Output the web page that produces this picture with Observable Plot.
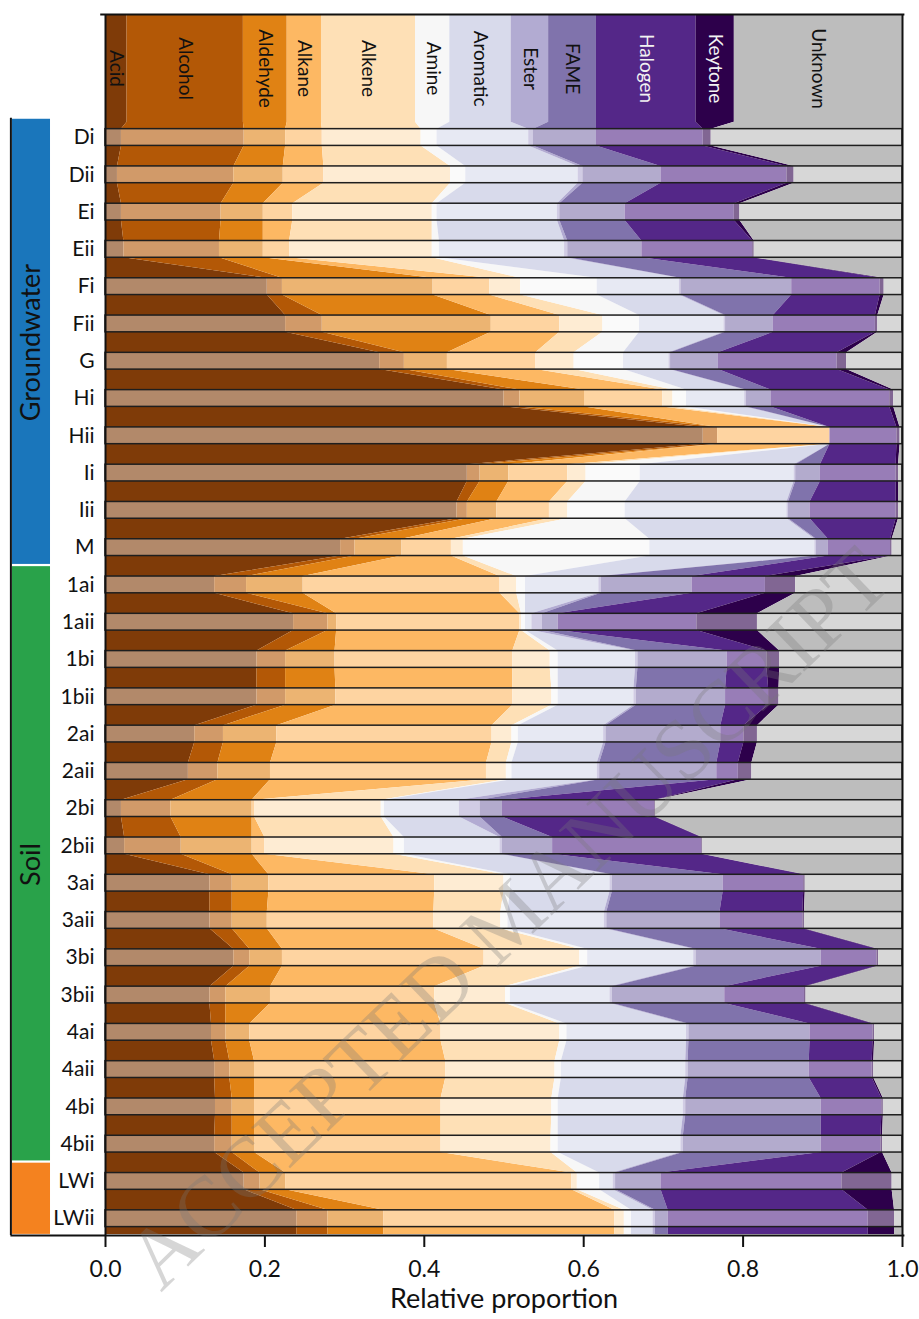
<!DOCTYPE html>
<html><head><meta charset="utf-8">
<script src="https://cdn.jsdelivr.net/npm/d3@7"></script>
<script src="https://cdn.jsdelivr.net/npm/@observablehq/plot@0.6"></script>
<style>body{margin:0;background:#fff;} svg{display:block;}</style>
</head><body><div id="chart"></div>
<script>
const categories = ["Acid","Alcohol","Aldehyde","Alkane","Alkene","Amine","Aromatic","Ester","FAME","Halogen","Keytone","Unknown"];
const colors = ["#7f3b08","#b35806","#e08214","#fdb863","#fee0b6","#f7f7f7","#d8daeb","#b2abd2","#8073ac","#542788","#2d004b","#bdbdbd"];
const samples = ["Di","Dii","Ei","Eii","Fi","Fii","G","Hi","Hii","Ii","Iii","M","1ai","1aii","1bi","1bii","2ai","2aii","2bi","2bii","3ai","3aii","3bi","3bii","4ai","4aii","4bi","4bii","LWi","LWii"];
const groups = [
  {name: "Groundwater", first: 0, last: 11, color: "#1a76bb"},
  {name: "Soil", first: 12, last: 27, color: "#29a24a"},
  {name: "", first: 28, last: 29, color: "#f4821f"}
];
// header (legend) band: cumulative right edges of the first 11 categories
const headerEdges = [0.027, 0.173, 0.228, 0.271, 0.389, 0.432, 0.509, 0.556, 0.616, 0.741, 0.789];
// cumulative right edge of each category (Acid ... Keytone) per sample; Unknown fills to 1
const edges = [
  [0.020, 0.174, 0.226, 0.272, 0.396, 0.416, 0.531, 0.537, 0.616, 0.750, 0.760],
  [0.015, 0.161, 0.223, 0.274, 0.433, 0.452, 0.593, 0.599, 0.697, 0.855, 0.864],
  [0.020, 0.145, 0.198, 0.235, 0.410, 0.416, 0.567, 0.570, 0.652, 0.789, 0.796],
  [0.023, 0.143, 0.198, 0.231, 0.410, 0.419, 0.576, 0.580, 0.673, 0.812, 0.814],
  [0.203, 0.222, 0.411, 0.482, 0.521, 0.617, 0.720, 0.722, 0.861, 0.972, 0.977],
  [0.226, 0.272, 0.484, 0.570, 0.624, 0.670, 0.776, 0.778, 0.838, 0.966, 0.969],
  [0.344, 0.375, 0.429, 0.540, 0.588, 0.650, 0.707, 0.709, 0.769, 0.918, 0.930],
  [0.500, 0.520, 0.601, 0.699, 0.712, 0.729, 0.802, 0.804, 0.835, 0.984, 0.989],
  [0.750, 0.768, 0.768, 0.909, 0.909, 0.909, 0.909, 0.909, 0.909, 0.993, 0.997],
  [0.454, 0.470, 0.506, 0.580, 0.603, 0.671, 0.864, 0.866, 0.897, 0.992, 0.995],
  [0.441, 0.454, 0.491, 0.557, 0.580, 0.652, 0.855, 0.857, 0.884, 0.992, 0.995],
  [0.295, 0.313, 0.372, 0.434, 0.449, 0.683, 0.890, 0.892, 0.907, 0.985, 0.987],
  [0.137, 0.177, 0.248, 0.495, 0.516, 0.527, 0.619, 0.622, 0.736, 0.828, 0.866],
  [0.236, 0.279, 0.290, 0.520, 0.522, 0.527, 0.535, 0.548, 0.568, 0.742, 0.818],
  [0.190, 0.226, 0.288, 0.511, 0.558, 0.568, 0.665, 0.668, 0.780, 0.830, 0.846],
  [0.190, 0.226, 0.289, 0.511, 0.560, 0.568, 0.663, 0.666, 0.778, 0.832, 0.845],
  [0.112, 0.148, 0.215, 0.485, 0.510, 0.518, 0.625, 0.628, 0.772, 0.801, 0.818],
  [0.104, 0.141, 0.207, 0.478, 0.503, 0.510, 0.617, 0.620, 0.767, 0.794, 0.811],
  [0.020, 0.082, 0.184, 0.187, 0.346, 0.350, 0.444, 0.470, 0.498, 0.689, 0.690],
  [0.024, 0.095, 0.184, 0.200, 0.362, 0.375, 0.495, 0.498, 0.561, 0.748, 0.749],
  [0.131, 0.159, 0.205, 0.413, 0.500, 0.508, 0.633, 0.636, 0.775, 0.876, 0.878],
  [0.131, 0.159, 0.203, 0.412, 0.496, 0.505, 0.626, 0.629, 0.771, 0.875, 0.877],
  [0.161, 0.181, 0.222, 0.475, 0.595, 0.605, 0.738, 0.741, 0.898, 0.968, 0.970],
  [0.131, 0.151, 0.207, 0.413, 0.502, 0.508, 0.633, 0.636, 0.777, 0.877, 0.879],
  [0.133, 0.151, 0.181, 0.421, 0.570, 0.579, 0.729, 0.732, 0.884, 0.963, 0.965],
  [0.137, 0.156, 0.187, 0.427, 0.564, 0.572, 0.728, 0.731, 0.883, 0.962, 0.964],
  [0.138, 0.159, 0.187, 0.421, 0.560, 0.568, 0.725, 0.728, 0.898, 0.974, 0.976],
  [0.137, 0.159, 0.187, 0.421, 0.559, 0.568, 0.722, 0.725, 0.898, 0.973, 0.975],
  [0.174, 0.194, 0.226, 0.585, 0.592, 0.620, 0.637, 0.640, 0.697, 0.924, 0.987],
  [0.240, 0.279, 0.349, 0.639, 0.651, 0.660, 0.687, 0.690, 0.706, 0.957, 0.990]
];
const xTicks = [0, 0.2, 0.4, 0.6, 0.8, 1.0];

// ---- layout (row units on y, proportion on x) ----
const H = 0.225;               // half height of each sample bar
const headerTop = -3.30, headerBottom = -0.41, yBottom = 29.45;
const grpX1 = -0.1167, grpX2 = -0.069, grpLabelX = -0.093;

function shares(e) {
  const s = []; let prev = 0;
  for (const v of e) { s.push(Math.max(0, v - prev)); prev = Math.max(prev, v); }
  s.push(Math.max(0, 1 - prev));
  return s;
}
const areaData = [];
function pushRow(y, e) { shares(e).forEach((v, k) => areaData.push({y, cat: categories[k], value: v})); }
pushRow(headerTop, headerEdges);
pushRow(headerBottom, headerEdges);
edges.forEach((e, i) => { pushRow(i - H, e); pushRow(i + H, e); });
pushRow(29.42, edges[edges.length - 1]);

const headerCells = categories.map((c, k) => {
  const x1 = k === 0 ? 0 : headerEdges[k - 1];
  const x2 = k < headerEdges.length ? headerEdges[k] : 1;
  return {name: c, mid: (x1 + x2) / 2, k};
});
const darkLabels = headerCells.filter(d => d.name !== "Halogen" && d.name !== "Keytone");
const lightLabels = headerCells.filter(d => d.name === "Halogen" || d.name === "Keytone");

const marks = [
  Plot.areaX(areaData, {y: "y", x: "value", z: "cat", fill: "cat", order: categories, curve: "linear"}),
  Plot.rect(samples, {x1: () => 0, x2: () => 1, y1: (d, i) => i - H, y2: (d, i) => i + H,
    fill: "white", fillOpacity: 0.4, stroke: "#1e1e1e", strokeWidth: 1.5}),
  Plot.text(darkLabels, {x: "mid", y: () => -1.85, text: "name", rotate: 90, fontSize: 19, fill: "#111"}),
  Plot.text(lightLabels, {x: "mid", y: () => -1.85, text: "name", rotate: 90, fontSize: 19, fill: "#f2f2f2"}),
  Plot.text(samples, {x: () => 0, y: (d, i) => i, text: d => d, textAnchor: "end", dx: -11, fontSize: 21, fill: "#111"}),
  ...groups.map(g => Plot.rect([g], {x1: () => grpX1, x2: () => grpX2,
    y1: d => d.first - 0.49, y2: d => (d.last === 29 ? 29.42 : d.last + 0.45), fill: g.color})),
  ...groups.filter(g => g.name).map(g => Plot.text([g], {x: () => grpLabelX, y: d => (d.first + d.last) / 2,
    text: "name", rotate: -90, fontSize: 27, fill: "#111"})),
  // frame lines
  Plot.ruleY([headerTop], {x1: -0.006, x2: 1.003, stroke: "#111", strokeWidth: 2}),
  Plot.ruleY([yBottom], {x1: grpX1 - 0.002, x2: 1.003, stroke: "#111", strokeWidth: 2}),
  Plot.ruleX([0], {y1: headerTop, y2: yBottom, stroke: "#111", strokeWidth: 2}),
  Plot.ruleX([1], {y1: headerTop, y2: yBottom, stroke: "#111", strokeWidth: 2}),
  Plot.ruleX([grpX1 - 0.002], {y1: -0.52, y2: yBottom, stroke: "#111", strokeWidth: 2}),
  Plot.axisX({ticks: xTicks, tickFormat: d3.format(".1f"), tickSize: 12, tickPadding: 13, fontSize: 23,
    label: null, stroke: "#111", strokeWidth: 2, fill: "#111"}),
  Plot.text(["Relative proportion"], {frameAnchor: "bottom", dy: 72, text: d => d, fontSize: 27, fill: "#111"}),
  // watermark of the source manuscript
  Plot.text(["ACCEPTED MANUSCRIPT"], {frameAnchor: "top-left", textAnchor: "middle", dx: 380, dy: 880, text: d => d,
    rotate: -44, fontSize: 86, fontFamily: "Liberation Serif, serif", fill: "#777", fillOpacity: 0.3})
];

const chart = Plot.plot({
  width: 919, height: 1319,
  marginLeft: 105, marginRight: 17, marginTop: 14, marginBottom: 84,
  x: {domain: [0, 1]},
  y: {domain: [headerTop, yBottom], range: [14, 1235], axis: null},
  color: {domain: categories, range: colors},
  style: {fontFamily: "Lato, 'Open Sans', sans-serif", background: "#fff", overflow: "visible"},
  marks
});
document.getElementById("chart").appendChild(chart);
</script>
</body></html>
